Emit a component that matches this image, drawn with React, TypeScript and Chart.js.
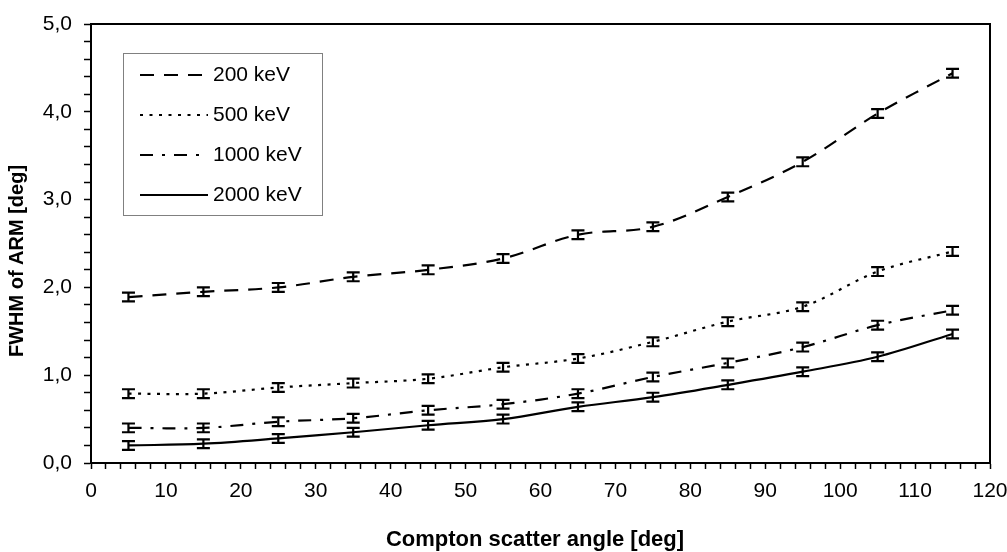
import React, { useEffect, useRef } from 'react';
import { Chart, registerables } from 'chart.js';

Chart.register(...registerables);

const angles = [5, 15, 25, 35, 45, 55, 65, 75, 85, 95, 105, 115];
const fwhm200 = [1.89, 1.95, 2.0, 2.12, 2.2, 2.33, 2.6, 2.69, 3.03, 3.43, 3.98, 4.44];
const fwhm500 = [0.79, 0.79, 0.86, 0.91, 0.96, 1.09, 1.19, 1.38, 1.61, 1.78, 2.18, 2.41];
const fwhm1000 = [0.4, 0.4, 0.47, 0.51, 0.6, 0.67, 0.79, 0.98, 1.14, 1.32, 1.57, 1.74];
const fwhm2000 = [0.2, 0.22, 0.28, 0.35, 0.43, 0.5, 0.64, 0.75, 0.89, 1.04, 1.21, 1.47];
const err200 = [0.05, 0.05, 0.05, 0.05, 0.05, 0.05, 0.05, 0.05, 0.05, 0.05, 0.05, 0.05];
const err500 = [0.05, 0.05, 0.05, 0.05, 0.05, 0.05, 0.05, 0.05, 0.05, 0.05, 0.05, 0.05];
const err1000 = [0.05, 0.05, 0.05, 0.05, 0.05, 0.05, 0.05, 0.05, 0.05, 0.05, 0.05, 0.05];
const err2000 = [0.05, 0.05, 0.05, 0.05, 0.05, 0.05, 0.05, 0.05, 0.05, 0.05, 0.05, 0.05];
const seriesLabels = ['200 keV', '500 keV', '1000 keV', '2000 keV'];
const xTitle = 'Compton scatter angle [deg]';
const yTitle = 'FWHM of ARM [deg]';

const FONT = '"Liberation Sans", Arial, sans-serif';

const errorBarPlugin = {
  id: 'errorBars',
  afterDatasetsDraw(chart: any) {
    const ctx = chart.ctx;
    const xs = chart.scales.x;
    const ys = chart.scales.y;
    ctx.save();
    ctx.strokeStyle = '#000';
    ctx.lineWidth = 2.2;
    ctx.setLineDash([]);
    chart.data.datasets.forEach((ds: any) => {
      const errs = ds.errors as number[];
      ds.data.forEach((p: any, j: number) => {
        const x = xs.getPixelForValue(p.x);
        const y1 = ys.getPixelForValue(p.y + errs[j]);
        const y2 = ys.getPixelForValue(p.y - errs[j]);
        ctx.beginPath();
        ctx.moveTo(x, y1);
        ctx.lineTo(x, y2);
        ctx.moveTo(x - 6.5, y1);
        ctx.lineTo(x + 6.5, y1);
        ctx.moveTo(x - 6.5, y2);
        ctx.lineTo(x + 6.5, y2);
        ctx.stroke();
      });
    });
    ctx.restore();
  },
};

const framePlugin = {
  id: 'frameAndText',
  afterDraw(chart: any) {
    const ctx = chart.ctx;
    const a = chart.chartArea;
    ctx.save();
    ctx.strokeStyle = '#000';
    ctx.lineWidth = 2;
    ctx.setLineDash([]);
    ctx.strokeRect(a.left, a.top, a.right - a.left, a.bottom - a.top);

    // axis titles
    ctx.fillStyle = '#000';
    ctx.textAlign = 'center';
    ctx.textBaseline = 'middle';
    ctx.font = 'bold 22px ' + FONT;
    ctx.fillText(xTitle, 535, 540);
    ctx.font = 'bold 20px ' + FONT;
    ctx.save();
    ctx.translate(17, 261);
    ctx.rotate(-Math.PI / 2);
    ctx.fillText(yTitle, 0, 0);
    ctx.restore();

    // legend
    const bx = 123, by = 53, bw = 199, bh = 162;
    ctx.fillStyle = '#fff';
    ctx.fillRect(bx, by, bw, bh);
    ctx.strokeStyle = '#808080';
    ctx.lineWidth = 1;
    ctx.strokeRect(bx + 0.5, by + 0.5, bw, bh);
    ctx.font = '21px ' + FONT;
    ctx.textAlign = 'left';
    ctx.textBaseline = 'middle';
    chart.data.datasets.forEach((ds: any, i: number) => {
      const cy = 75 + i * 40;
      ctx.strokeStyle = '#000';
      ctx.lineWidth = 2;
      ctx.setLineDash(ds.borderDash || []);
      ctx.beginPath();
      ctx.moveTo(140, cy);
      ctx.lineTo(208, cy);
      ctx.stroke();
      ctx.setLineDash([]);
      ctx.fillStyle = '#000';
      ctx.fillText(ds.label, 213, cy);
    });
    ctx.restore();
  },
};

export default function App() {
  const ref = useRef<HTMLCanvasElement>(null);
  useEffect(() => {
    if (!ref.current) return;
    const mk = (vals: number[]) => angles.map((a, i) => ({ x: a, y: vals[i] }));
    const base = {
      borderColor: '#000',
      backgroundColor: '#000',
      borderWidth: 2.2,
      pointRadius: 0,
      tension: 0.35,
      fill: false,
    };
    const chart = new Chart(ref.current, {
      type: 'line',
      data: {
        datasets: [
          { ...base, label: seriesLabels[0], data: mk(fwhm200), borderDash: [14, 10], errors: err200 } as any,
          { ...base, label: seriesLabels[1], data: mk(fwhm500), borderDash: [3, 6.5], errors: err500 } as any,
          { ...base, label: seriesLabels[2], data: mk(fwhm1000), borderDash: [13, 9, 3, 9], errors: err1000 } as any,
          { ...base, label: seriesLabels[3], data: mk(fwhm2000), borderDash: [], errors: err2000 } as any,
        ],
      },
      options: {
        animation: false,
        responsive: false,
        devicePixelRatio: 1,
        layout: { padding: { left: 0, top: 24, right: 17, bottom: 0 } },
        plugins: { legend: { display: false }, tooltip: { enabled: false } },
        scales: {
          x: {
            type: 'linear',
            min: 0,
            max: 120,
            afterFit: (s: any) => {
              s.height = 89;
              s.paddingRight = 0;
              s.paddingLeft = 0;
            },
            border: { color: '#000', width: 2 },
            grid: { drawOnChartArea: false, drawTicks: true, tickLength: 6, tickColor: '#000', tickWidth: 1.5 },
            ticks: {
              stepSize: 2,
              autoSkip: false,
              maxRotation: 0,
              padding: 10,
              color: '#000',
              font: { family: FONT, size: 21 },
              callback: (v: any) => (Math.round(v) % 10 === 0 ? String(Math.round(v)) : ''),
            },
          },
          y: {
            min: 0,
            max: 5,
            afterFit: (s: any) => {
              s.width = 91;
              s.paddingTop = 0;
              s.paddingBottom = 0;
            },
            border: { color: '#000', width: 2 },
            grid: { drawOnChartArea: false, drawTicks: true, tickLength: 7, tickColor: '#000', tickWidth: 1.5 },
            ticks: {
              stepSize: 0.2,
              autoSkip: false,
              padding: 12,
              color: '#000',
              font: { family: FONT, size: 21 },
              callback: (v: any) => {
                const n = Number(v);
                return Math.abs(n - Math.round(n)) < 1e-6 ? n.toFixed(1).replace('.', ',') : '';
              },
            },
          },
        },
      },
      plugins: [errorBarPlugin, framePlugin],
    } as any);
    return () => chart.destroy();
  }, []);
  return (
    <div style={{ position: 'fixed', left: 0, top: 0, width: 1007, height: 552, background: '#fff' }}>
      <canvas ref={ref} width={1007} height={552} />
    </div>
  );
}
